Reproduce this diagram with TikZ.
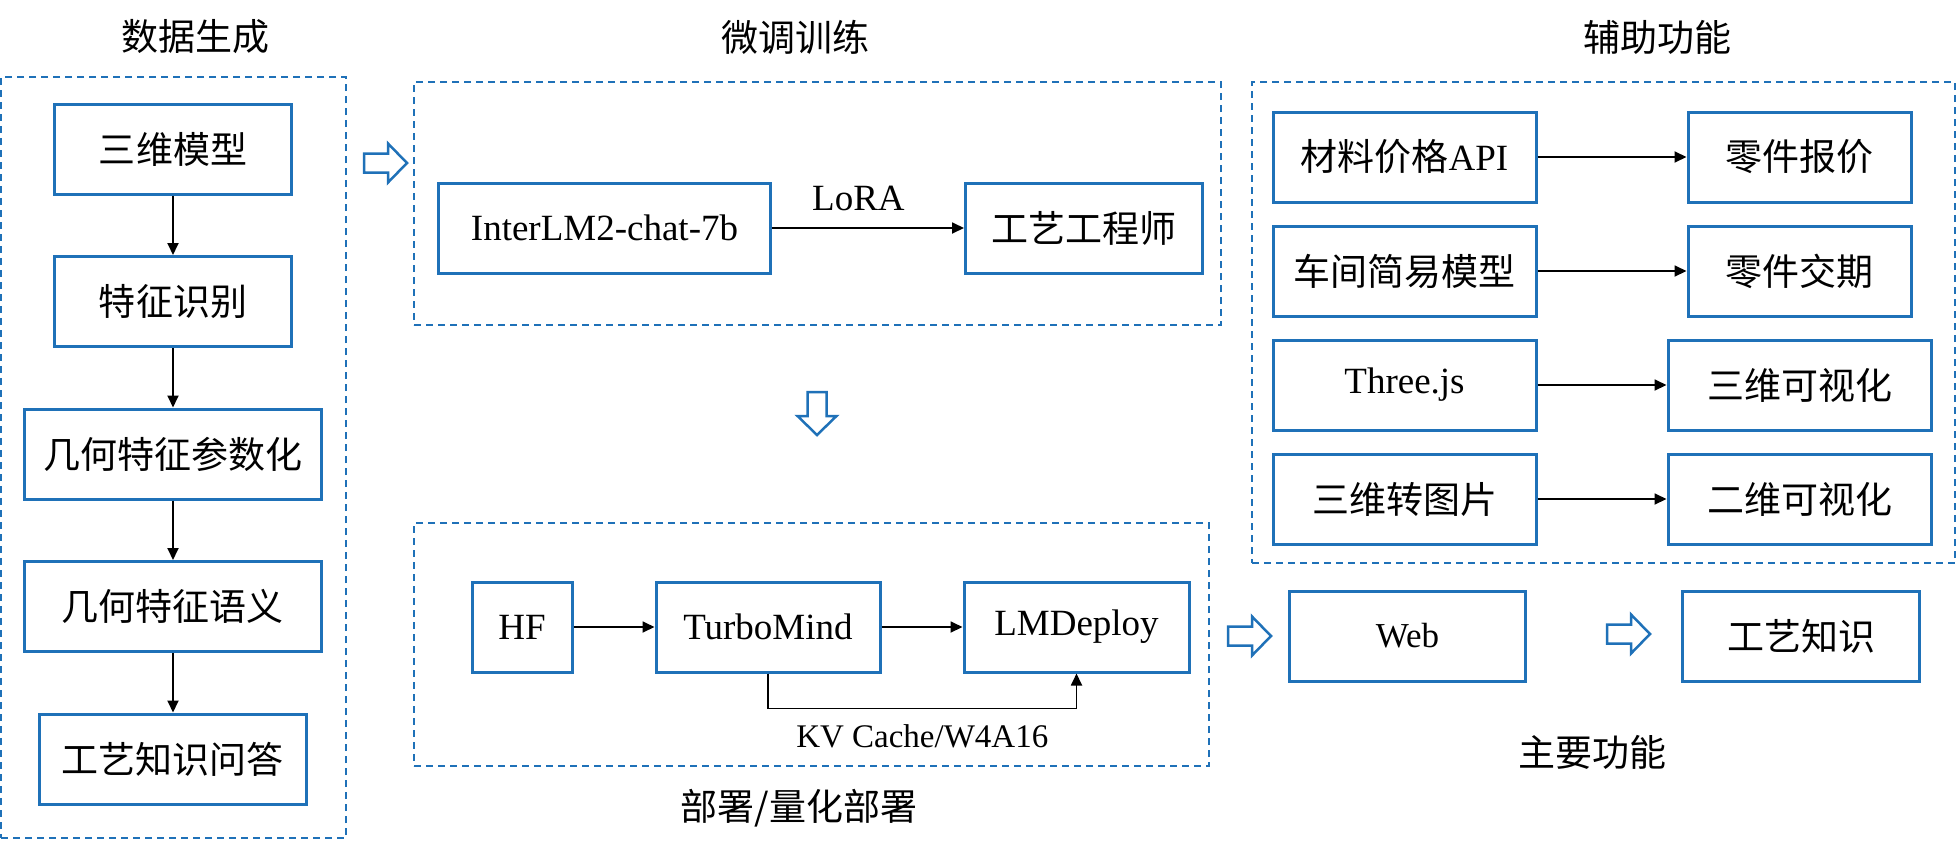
\documentclass[tikz,border=0pt]{standalone}
\usepackage{fontspec}
\setmainfont{Liberation Serif}
\newfontfamily\cjk{Noto Sans CJK SC}
\usetikzlibrary{arrows.meta,positioning}
\definecolor{boxblue}{RGB}{31,113,184}
\begin{document}
\begin{tikzpicture}[x=1pt,y=-1pt,
  >={Triangle[length=12pt,width=11pt]},
  box/.style={draw=boxblue,line width=3pt,minimum height=90pt,inner sep=0pt,
              font=\cjk\fontsize{37}{40}\selectfont},
  ebox/.style={box,font=\fontsize{37}{40}\selectfont},
  frame/.style={draw=boxblue,line width=2pt,dash pattern=on 7pt off 5pt},
  title/.style={font=\cjk\fontsize{37}{40}\selectfont},
  flow/.style={->,line width=1.8pt},
  hollow/.pic={\draw[boxblue,line width=2.5pt,fill=white]
    (0,-9.5) -- (24,-9.5) -- (24,-19.5) -- (43,0) -- (24,19.5) -- (24,9.5) -- (0,9.5) -- cycle;}]
\useasboundingbox (0,0) rectangle (1956,854);
% dashed groups
\node[frame,minimum width=345pt,minimum height=761pt] (gen)    at (173.5,457.5) {};
\node[frame,minimum width=807pt,minimum height=243pt] (tune)   at (817.5,203.5) {};
\node[frame,minimum width=795pt,minimum height=243pt] (deploy) at (811.5,644.5) {};
\node[frame,minimum width=703pt,minimum height=481pt] (aux)    at (1603.5,322.5) {};
\node[title] (gentitle)    at (195,37)   {数据生成};
\node[title] (tunetitle)   at (795,37)   {微调训练};
\node[title] (auxtitle)    at (1657,37)  {辅助功能};
\node[title] (deploytitle) at (799,808)  {部署/量化部署};
\node[title] (maintitle)   at (1592,752) {主要功能};
% data generation
\matrix[row sep=59.5pt] (datacol) at (173,454)
{ \node[box,minimum width=237pt] (m3d)  {三维模型};       \\
  \node[box,minimum width=237pt] (feat) {特征识别};       \\
  \node[box,minimum width=296pt] (para) {几何特征参数化}; \\
  \node[box,minimum width=296pt] (sem)  {几何特征语义};   \\
  \node[box,minimum width=267pt] (qa)   {工艺知识问答};   \\};
\draw[flow] (m3d)  -- (feat);
\draw[flow] (feat) -- (para);
\draw[flow] (para) -- (sem);
\draw[flow] (sem)  -- (qa);
% fine tuning
\matrix[column sep=192pt] (tunerow) at (820.5,228)
{ \node[ebox,minimum width=332pt] (intern) {InterLM2-chat-7b}; &
  \node[box,minimum width=237pt]  (eng)    {工艺工程师};       \\};
\draw[flow] (intern) -- node[pos=0.45,above=16pt,inner sep=0pt,font=\fontsize{37}{40}\selectfont] {LoRA} (eng);
% deployment
\matrix[column sep=81pt] (deployrow) at (830.5,627)
{ \node[ebox,minimum width=100pt] (hf)    {HF};        &
  \node[ebox,minimum width=224pt] (turbo) {TurboMind}; &
  \node[ebox,minimum width=225pt] (lmd)   {LMDeploy};  \\};
\draw[flow] (hf) -- (turbo);
\draw[flow] (turbo) -- (lmd);
\draw[flow] (turbo.south) -- ++(0,35) -| node[pos=0.25,below=15pt,inner sep=0pt,font=\fontsize{33}{36}\selectfont] {KV Cache/W4A16} (lmd.south);
% auxiliary functions
\matrix[column sep={395pt,between origins},row sep={114pt,between origins}] (auxgrid) at (1602,328)
{ \node[box,minimum width=263pt]  (api)   {材料价格{\rmfamily API}}; &
  \node[box,minimum width=223pt]  (quote) {零件报价};   \\
  \node[box,minimum width=263pt]  (shop)  {车间简易模型}; &
  \node[box,minimum width=223pt]  (due)   {零件交期};   \\
  \node[ebox,minimum width=263pt] (three) {Three.js};   &
  \node[box,minimum width=263pt]  (vis3)  {三维可视化}; \\
  \node[box,minimum width=263pt]  (img)   {三维转图片}; &
  \node[box,minimum width=263pt]  (vis2)  {二维可视化}; \\};
\draw[flow] (api)   -- (quote);
\draw[flow] (shop)  -- (due);
\draw[flow] (three) -- (vis3);
\draw[flow] (img)   -- (vis2);
% main functions
\matrix[column sep=154pt] (mainrow) at (1604.5,636)
{ \node[ebox,minimum width=236pt,font=\fontsize{35}{40}\selectfont] (web) {Web}; &
  \node[box,minimum width=237pt] (know) {工艺知识}; \\};
% block arrows between stages
\pic at (364,163) {hollow};
\pic[rotate=-90] at (817,392) {hollow};
\pic at (1228,636) {hollow};
\pic at (1607,634) {hollow};
\end{tikzpicture}
\end{document}
